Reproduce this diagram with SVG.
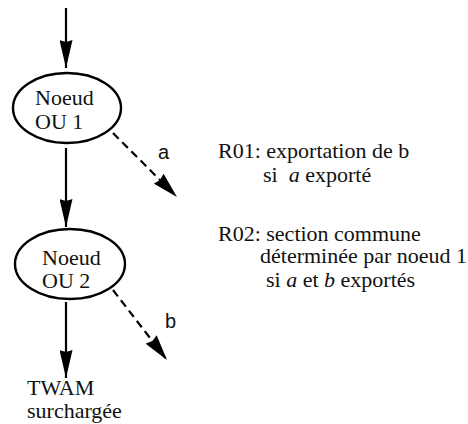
<svg xmlns="http://www.w3.org/2000/svg" width="468" height="424" viewBox="0 0 468 424">
  <style>
    .edge { stroke: #000; stroke-width: 2.2; fill: none; }
    .dash { stroke-dasharray: 8 5; }
    .node { fill: #fff; stroke: #000; stroke-width: 2.4; }
    .serif { font-size: 22px; fill: #111; }
    .sans { font-size: 20px; fill: #111; }
    .it { font-style: italic; }
  </style>
  <defs>
    <marker id="head" viewBox="0 0 28 13" refX="28" refY="6.5" markerWidth="28" markerHeight="13" markerUnits="userSpaceOnUse" orient="auto">
      <path d="M0,0 L28,6.5 L0,13 L2,6.5 Z" fill="#000"/>
    </marker>
    <marker id="headShort" viewBox="0 0 26 14" refX="26" refY="7" markerWidth="26" markerHeight="14" markerUnits="userSpaceOnUse" orient="auto">
      <path d="M0,0 L26,7 L0,14 L2,7 Z" fill="#000"/>
    </marker>
  </defs>

  <!-- connectors -->
  <g id="connectors" font-family="'Liberation Sans', Arial, sans-serif">
    <line class="edge" x1="66" y1="8" x2="66" y2="68" marker-end="url(#head)"/>
    <line class="edge" x1="66" y1="148" x2="66" y2="227" marker-end="url(#head)"/>
    <line class="edge" x1="66" y1="302" x2="66" y2="378" marker-end="url(#head)"/>
    <line class="edge dash" x1="113" y1="133" x2="177" y2="197" marker-end="url(#headShort)"/>
    <line class="edge dash" x1="113" y1="290" x2="167" y2="360" marker-end="url(#headShort)"/>
    <text class="sans" x="158" y="159">a</text>
    <text class="sans" x="165" y="328">b</text>
  </g>

  <g font-family="'Liberation Serif', 'DejaVu Serif', 'Times New Roman', serif">
    <!-- OR node 1 -->
    <g id="noeud-ou-1">
      <ellipse class="node" cx="67" cy="108" rx="54" ry="35"/>
      <text class="serif"><tspan x="35" y="105">Noeud</tspan><tspan x="35" y="129">OU 1</tspan></text>
    </g>

    <!-- OR node 2 -->
    <g id="noeud-ou-2">
      <ellipse class="node" cx="70" cy="264" rx="55" ry="35"/>
      <text class="serif"><tspan x="42" y="265">Noeud</tspan><tspan x="42" y="288">OU 2</tspan></text>
    </g>

    <!-- outcome -->
    <g id="twam">
      <text class="serif"><tspan x="27" y="395">TWAM</tspan><tspan x="27" y="418">surchargée</tspan></text>
    </g>

    <!-- rules -->
    <g id="regle-r01">
      <text class="serif" xml:space="preserve"><tspan x="218" y="158">R01: exportation de b</tspan><tspan x="263" y="182">si  </tspan><tspan class="it">a</tspan><tspan> exporté</tspan></text>
    </g>
    <g id="regle-r02">
      <text class="serif" xml:space="preserve"><tspan x="218" y="241">R02: section commune</tspan><tspan x="260" y="263">déterminée par noeud 1</tspan><tspan x="266" y="287">si </tspan><tspan class="it">a</tspan><tspan> et </tspan><tspan class="it">b</tspan><tspan> exportés</tspan></text>
    </g>
  </g>
</svg>
